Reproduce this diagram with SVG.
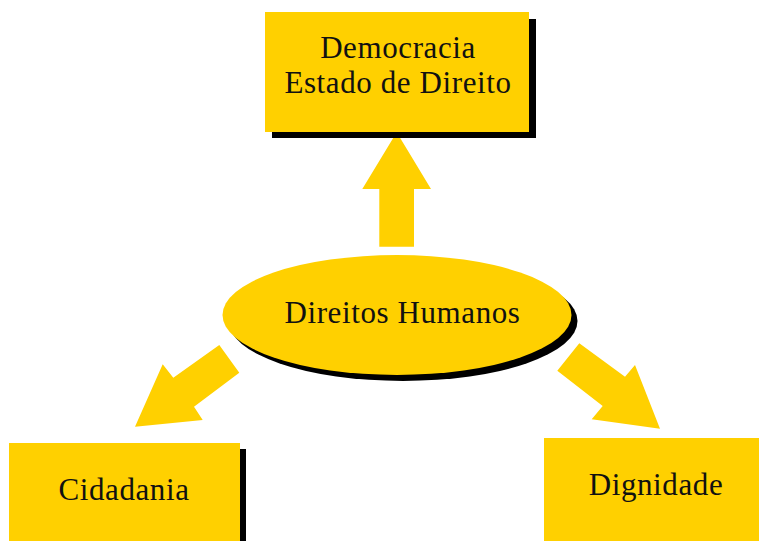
<svg xmlns="http://www.w3.org/2000/svg" width="759" height="541" viewBox="0 0 759 541">
<style>
.fill{fill:#FFD000}
.shadow{fill:#000}
.t{font-family:"Liberation Serif","Times New Roman",serif;font-size:31px;letter-spacing:0.6px;fill:#111;text-anchor:middle}
</style>
<rect width="759" height="541" fill="#fff"/>
<g id="connectors">
<polygon class="fill" points="379.3,246.7 414,246.7 414,189 431,189 396.7,132.3 362.3,189 379.3,189"/>
<polygon class="fill" points="219.3,345 239.3,372.7 194,406.7 202.7,420 135,426.7 162.7,364.3 173.3,377.7"/>
<polygon class="fill" points="579.3,343.3 625,376.7 635,365 660,428.7 591.7,419.3 602.7,406 557.3,370.7"/>
</g>
<g id="democracia">
<rect class="shadow" x="272" y="19" width="264" height="119"/>
<rect class="fill" x="265" y="12" width="264" height="120"/>
<text class="t" x="398" y="58">Democracia</text>
<text class="t" x="398" y="93">Estado de Direito</text>
</g>
<g id="direitos">
<ellipse class="shadow" cx="403" cy="321" rx="174.5" ry="60"/>
<ellipse class="fill" cx="397" cy="315" rx="174.5" ry="60"/>
<text class="t" x="402.5" y="323">Direitos Humanos</text>
</g>
<g id="cidadania">
<rect class="shadow" x="16" y="449" width="230" height="100"/>
<rect class="fill" x="9" y="443" width="231" height="100"/>
<text class="t" x="124" y="500">Cidadania</text>
</g>
<g id="dignidade">
<rect class="fill" x="544" y="438" width="220" height="110"/>
<text class="t" x="656" y="495">Dignidade</text>
</g>
</svg>
